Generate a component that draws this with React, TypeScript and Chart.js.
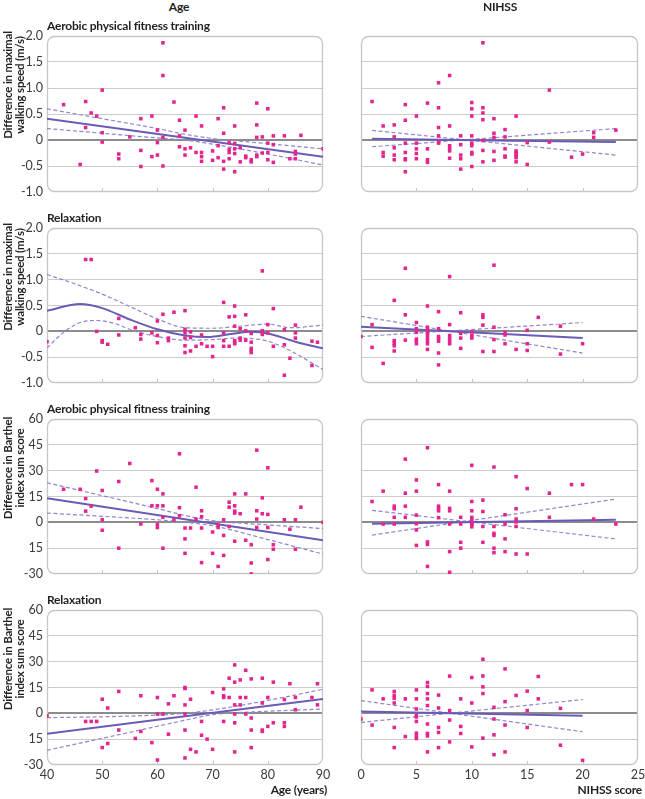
import React, { useEffect, useRef } from "react";
import { Chart, registerables } from "chart.js";
Chart.register(...registerables);

type Pt = [number, number];

// ---------------- axes ----------------
const AGE_TICKS = [40, 50, 60, 70, 80, 90];
const NIHSS_TICKS = [0, 5, 10, 15, 20, 25];
const SPEED_TICKS = [-1.0, -0.5, 0, 0.5, 1.0, 1.5, 2.0];
const SPEED_TICK_LABELS = ["-1.0", "-0.5", "0", "0.5", "1.0", "1.5", "2.0"];
const BARTHEL_TICKS = [-30, -15, 0, 15, 30, 45, 60];
const BARTHEL_TICK_LABELS = ["-30", "15", "0", "15", "30", "45", "60"];

// ---------------- row 1: walking speed, aerobic ----------------
const speedAerobicAge: Pt[] = [
  [43, 0.68], [46, -0.47], [47, 0.74], [47, 0.24], [48, 0.52], [49, 0.46], [50, 0.96], [50, 0.14], [50, -0.04],
  [53, -0.27], [53, -0.36], [55, 0.06], [57, 0.41], [57, -0.2], [57, -0.51], [59, 0.46], [59, -0.32], [60, 0.19],
  [60, -0.05], [60, -0.29], [61, 1.87], [61, 1.24], [61, 0.05], [61, -0.5], [63, 0.73], [64, 0.38], [64, 0.08],
  [64, -0.13], [65, 0.19], [65, -0.17], [65, -0.29], [66, -0.15], [67, 0.46], [67, -0.24], [68, 0.27], [68, -0.24],
  [68, -0.32], [68, -0.41], [70, -0.21], [70, -0.39], [71, 0.41], [71, -0.11], [71, -0.34], [72, 0.62], [72, 0.13],
  [72, -0.41], [72, -0.56], [73, -0.05], [73, -0.18], [73, -0.24], [73, -0.36], [74, 0.27], [74, -0.07], [74, -0.17],
  [74, -0.26], [74, -0.61], [75, -0.15], [75, -0.42], [76, -0.31], [76, -0.34], [77, -0.38], [77, -0.42], [78, 0.71],
  [78, 0.29], [78, 0.05], [78, -0.29], [78, -0.32], [79, 0.06], [79, -0.25], [80, 0.6], [80, -0.06], [80, -0.24],
  [80, -0.38], [81, 0.08], [81, -0.09], [81, -0.43], [83, 0.08], [84, -0.36], [85, -0.22], [85, -0.27], [85, -0.36],
  [86, 0.09], [90, -0.17],
];
const speedAerobicAgeFitX = [40, 90];
const speedAerobicAgeFitY = [0.41, -0.32];
const speedAerobicAgeUpperX = [40, 50, 60, 65, 70, 80, 90];
const speedAerobicAgeUpperY = [0.6, 0.41, 0.22, 0.11, 0.03, -0.07, -0.17];
const speedAerobicAgeLowerX = [40, 50, 60, 65, 70, 80, 90];
const speedAerobicAgeLowerY = [0.22, 0.13, 0.04, 0.0, -0.08, -0.27, -0.48];

const speedAerobicNihss: Pt[] = [
  [1, 0.74], [2, 0.27], [2, -0.24], [2, -0.31], [3, 0.29], [3, 0.06], [3, -0.15], [3, -0.29], [3, -0.38],
  [4, 0.68], [4, 0.38], [4, -0.06], [4, -0.24], [4, -0.36], [4, -0.38], [4, -0.61], [5, 0.46], [5, -0.06],
  [5, -0.17], [5, -0.26], [5, -0.36], [6, 0.71], [6, -0.17], [6, -0.38], [6, -0.43], [7, 1.1], [7, 0.62],
  [7, 0.24], [7, 0.08], [7, -0.04], [7, -0.06], [8, 1.24], [8, 0.27], [8, -0.11], [8, -0.16], [8, -0.21],
  [8, -0.35], [9, 0.08], [9, -0.09], [9, -0.29], [9, -0.36], [9, -0.56], [10, 0.72], [10, 0.6], [10, 0.46],
  [10, 0.08], [10, -0.06], [10, -0.11], [10, -0.24], [10, -0.27], [10, -0.51], [11, 1.87], [11, 0.62], [11, 0.52],
  [11, 0.39], [11, -0.01], [11, -0.2], [11, -0.42], [12, 0.41], [12, 0.13], [12, 0.05], [12, -0.22], [12, -0.39],
  [13, 0.2], [13, 0.06], [13, -0.17], [13, -0.31], [13, -0.33], [14, 0.46], [14, -0.21], [14, -0.24], [14, -0.27],
  [14, -0.31], [14, -0.34], [14, -0.42], [15, -0.05], [15, -0.47], [17, 0.96], [17, -0.04], [19, -0.33],
  [20, -0.27], [21, 0.14], [21, 0.05], [23, 0.19],
];
const speedAerobicNihssFitX = [1, 23];
const speedAerobicNihssFitY = [0.025, -0.04];
const speedAerobicNihssUpperX = [1, 23];
const speedAerobicNihssUpperY = [0.185, -0.29];
const speedAerobicNihssLowerX = [1, 23];
const speedAerobicNihssLowerY = [-0.13, 0.22];

// ---------------- row 2: walking speed, relaxation ----------------
const speedRelaxAge: Pt[] = [
  [47, 1.39], [48, 1.39], [53, 0.25], [56, 0.07], [60, 0.2], [61, 0.33], [63, 0.37], [65, 0.4], [65, 0.04],
  [72, 0.56], [73, 0.28], [74, 0.49], [74, 0.29], [74, 0.1], [75, 0.05], [76, 0.32], [76, 0.01], [79, 1.17],
  [79, 0.01], [80, 0.13], [81, 0.44], [83, 0.03], [85, 0.12],
  [40, -0.2], [49, 0], [50, -0.18], [50, -0.21], [51, -0.25], [53, -0.07], [57, -0.06], [57, -0.15], [59, -0.03],
  [60, -0.08], [60, -0.22], [62, -0.13], [62, -0.18], [65, -0.03], [65, -0.13], [65, -0.28], [65, -0.41],
  [66, -0.01], [66, -0.12], [66, -0.38], [67, -0.29], [68, -0.07], [68, -0.24], [69, -0.29], [70, -0.29],
  [70, -0.49], [72, -0.03], [72, -0.18], [72, -0.29], [73, -0.29], [74, -0.18], [74, -0.22], [74, -0.24],
  [75, -0.13], [75, -0.17], [76, -0.17], [77, -0.04], [77, -0.21], [77, -0.33], [77, -0.37], [77, -0.41],
  [79, -0.06], [80, -0.03], [81, -0.29], [83, -0.26], [83, -0.85], [84, -0.52], [85, -0.03], [85, -0.13],
  [88, -0.19], [88, -0.66], [89, -0.21],
];
const speedRelaxAgeFitX = [40, 46, 50, 55, 60, 65, 69, 74, 77, 80, 85, 90];
const speedRelaxAgeFitY = [0.4, 0.53, 0.45, 0.23, 0.04, -0.08, -0.11, -0.04, -0.01, -0.04, -0.2, -0.33];
const speedRelaxAgeUpperX = [40, 45, 50, 55, 60, 65, 70, 75, 80, 84, 90];
const speedRelaxAgeUpperY = [1.1, 0.92, 0.72, 0.48, 0.24, 0.07, 0.06, 0.1, 0.14, 0.07, 0.12];
const speedRelaxAgeLowerX = [40, 43, 46, 49, 52, 56, 60, 65, 70, 74, 78, 80, 84, 87, 90];
const speedRelaxAgeLowerY = [-0.32, -0.02, 0.17, 0.21, 0.16, 0.0, -0.1, -0.17, -0.16, -0.13, -0.15, -0.19, -0.37, -0.55, -0.74];

const speedRelaxNihss: Pt[] = [
  [1, 0.13], [3, 0.6], [4, 1.22], [4, 0.32], [5, 0.17], [5, 0.05], [6, 0.49], [6, 0.08], [6, 0.02], [7, 0.38],
  [7, 0.05], [8, 1.06], [8, 0.13], [9, 0.36], [11, 0.32], [11, 0.27], [11, 0.12], [12, 1.28], [12, 0.08],
  [15, 0.02], [16, 0.27], [18, 0.1],
  [0, -0.1], [1, -0.31], [2, -0.62], [3, -0.18], [3, -0.23], [3, -0.28], [3, -0.38], [4, -0.17], [5, -0.02],
  [5, -0.15], [5, -0.19], [5, -0.24], [6, -0.03], [6, -0.06], [6, -0.12], [6, -0.18], [6, -0.24], [6, -0.35],
  [7, -0.1], [7, -0.14], [7, -0.19], [7, -0.42], [7, -0.65], [8, -0.08], [8, -0.14], [8, -0.19], [8, -0.24],
  [9, -0.04], [9, -0.13], [9, -0.33], [10, -0.01], [10, -0.08], [10, -0.13], [11, -0.39], [12, -0.16],
  [12, -0.39], [13, -0.02], [13, -0.07], [13, -0.24], [14, -0.35], [15, -0.24], [15, -0.37], [18, -0.44],
  [20, -0.24],
];
const speedRelaxNihssFitX = [0, 20];
const speedRelaxNihssFitY = [0.09, -0.13];
const speedRelaxNihssUpperX = [0, 20];
const speedRelaxNihssUpperY = [0.29, -0.42];
const speedRelaxNihssLowerX = [0, 20];
const speedRelaxNihssLowerY = [-0.1, 0.17];

// ---------------- row 3: Barthel, aerobic ----------------
const barthelAerobicAge: Pt[] = [
  [43, 19.2], [46, 19.2], [47, 13.8], [47, 6.5], [48, 9.4], [49, 29.8], [50, 18.5], [50, 1.5], [53, 23.7],
  [55, 34.2], [57, -1], [59, 24.2], [59, 9.6], [60, 19.2], [60, 9.6], [60, -1.2], [60, -3], [61, 16.5], [61, 9.6],
  [61, 3], [63, 1.5], [64, 39.8], [64, 8.5], [64, 3.8], [65, -3.3], [66, -3.3], [67, 20.4], [67, 1.9], [68, 6.7],
  [68, 3.3], [68, -3.3], [71, -1.5], [71, -3], [72, 1.5], [73, 11.7], [73, 8.8], [74, 16.5], [74, 9.6], [74, 6.5],
  [74, 5.4], [75, 5], [76, 16.5], [78, 41.9], [78, 6.7], [78, 1.9], [78, -3], [79, 14.2], [79, 5], [80, 31.7],
  [80, 4.6], [80, -3], [83, 1.5], [85, 1.5], [86, 8.8], [90, 0],
  [50, -4.6], [53, -15], [61, -15], [65, -9.6], [65, -18], [68, -23.4], [70, -5.6], [70, -18], [71, -25.6],
  [72, -7.6], [72, -19.2], [73, -2.4], [74, -11], [76, -10.4], [77, -13], [77, -23.6], [77, -30], [80, -21.6],
  [81, -13], [81, -15.6], [84, -4], [85, -15.6],
];
const barthelAerobicAgeFitX = [40, 90];
const barthelAerobicAgeFitY = [14, -10.4];
const barthelAerobicAgeUpperX = [40, 50, 60, 65, 70, 80, 90];
const barthelAerobicAgeUpperY = [23, 15.5, 8, 4, 1, -1.5, -3.6];
const barthelAerobicAgeLowerX = [40, 50, 60, 65, 70, 80, 90];
const barthelAerobicAgeLowerY = [5.4, 3.5, 1.5, 0, -2, -10, -18.4];

const barthelAerobicNihss: Pt[] = [
  [1, 12.1], [2, 18.1], [3, 9.4], [3, 7.9], [3, 2.9], [4, 36.7], [4, 16.9], [4, 9.4], [4, 2.9], [5, 24.6],
  [5, 18.1], [5, 4.2], [5, -0.8], [6, 43.3], [7, 21.9], [7, 9.4], [7, 8.1], [7, 6.7], [7, 2.7], [8, 18.1], [8, 8.1],
  [8, 6.7], [9, 2.9], [10, 33.1], [10, 12.1], [10, 6.7], [10, 2.9], [10, 1.5], [10, -0.8], [11, 12.9], [11, 6.3],
  [12, 32.1], [13, 4.4], [14, 26.5], [14, 7.9], [14, 1.9], [14, 0.2], [15, 19.6], [17, 16.9], [17, 2.9],
  [19, 21.9], [20, 21.9], [21, 1.9],
  [2, -1], [3, -1], [5, -4.4], [5, -13.4], [6, -11.4], [6, -12.8], [6, -25.6], [8, -1], [8, -17], [8, -29], [9, -1],
  [9, -11.6], [9, -15], [10, -1.2], [10, -2.6], [11, -2.4], [11, -11.6], [12, -2.4], [12, -6.4], [12, -7.6],
  [12, -15], [12, -17.6], [13, -1], [13, -9.6], [13, -17], [14, -2.4], [14, -18.4], [15, -18.4], [23, -1],
];
const barthelAerobicNihssFitX = [1, 23];
const barthelAerobicNihssFitY = [-0.8, 1.5];
const barthelAerobicNihssUpperX = [1, 23];
const barthelAerobicNihssUpperY = [6.9, -9.6];
const barthelAerobicNihssLowerX = [1, 23];
const barthelAerobicNihssLowerY = [-7.4, 13.5];

// ---------------- row 4: Barthel, relaxation ----------------
const barthelRelaxAge: Pt[] = [
  [50, 8.2], [53, 12.7], [57, 10.2], [60, 9.2], [63, 10.2], [65, 15], [65, 14.4], [66, 8.2], [70, 12.1],
  [72, 14.2], [72, 10.2], [72, 9.2], [73, 20.4], [73, 9.2], [74, 28.1], [74, 18.1], [75, 19.4], [75, 9.2],
  [76, 25], [76, 9.2], [77, 20], [79, 20.4], [80, 9.2], [81, 18.1], [84, 17.2], [85, 9.2], [88, 9.2], [89, 17.2],
  [40, -1.4], [47, -4.7], [48, -4.7], [49, -4.7], [50, -19.9], [51, 3.1], [51, -17.5], [53, -9.7], [56, -14.6],
  [57, -10.5], [59, -17], [60, -0.4], [60, -27.1], [61, -0.4], [62, 5.5], [62, -12.1], [65, 4.9], [65, -0.4],
  [65, -9.7], [65, -25.9], [66, -20.9], [67, -22.4], [68, -4.7], [68, -12.7], [69, -15], [70, -20.9], [72, -4.7],
  [74, 4.9], [74, -0.4], [74, -5.5], [74, -22.4], [75, 4.9], [76, -0.4], [77, -2.7], [77, -9.7], [77, -19.9],
  [79, 6], [79, -9.7], [79, -10.5], [80, -7.6], [81, -5.5], [83, 8], [83, -5.5], [83, -7.6], [85, 2.1], [89, 4.9],
];
const barthelRelaxAgeFitX = [40, 90];
const barthelRelaxAgeFitY = [-11.8, 8.3];
const barthelRelaxAgeUpperX = [40, 50, 60, 65, 70, 80, 90];
const barthelRelaxAgeUpperY = [-2.5, -2, -1, 0, 2, 7.5, 14];
const barthelRelaxAgeLowerX = [40, 50, 60, 65, 70, 80, 90];
const barthelRelaxAgeLowerY = [-21.5, -14.5, -7.5, -4, -0.8, 1.2, 2.5];

const barthelRelaxNihss: Pt[] = [
  [1, 13.6], [2, 8.4], [3, 12.7], [3, 10.4], [3, 8.8], [4, 8.4], [5, 13.6], [5, 8.4], [6, 17.9], [6, 15.6],
  [6, 11.5], [6, 8.4], [7, 10.6], [8, 21.6], [9, 8.4], [10, 20.8], [11, 31.4], [11, 21.7], [11, 15.4], [11, 11.5],
  [13, 25.8], [14, 10.4], [15, 12.9], [16, 21.4], [16, 8.4],
  [0, -3.3], [1, -6.8], [3, 6], [3, -8.2], [3, -19.9], [4, -13.5], [5, 2.5], [5, -1.4], [5, -2.1], [5, -4.7],
  [5, -11.5], [5, -13.1], [5, -14.6], [6, 4.5], [6, -6.2], [6, -11.7], [6, -13.1], [6, -22.4], [7, 3.1], [7, -8.2],
  [7, -11.1], [7, -19.9], [8, 1.6], [8, -3.9], [8, -16.6], [9, -7.6], [9, -11.7], [10, 6], [10, -19.5],
  [11, -14.4], [12, 3.5], [12, -3.3], [12, -12.5], [12, -24], [13, 6.8], [13, -6.8], [13, -22.4], [15, 1.6],
  [15, -8.2], [18, 2.9], [18, -18.5], [20, -27.3],
];
const barthelRelaxNihssFitX = [0, 20];
const barthelRelaxNihssFitY = [1, -1.4];
const barthelRelaxNihssUpperX = [0, 20];
const barthelRelaxNihssUpperY = [7.4, -10.7];
const barthelRelaxNihssLowerX = [0, 20];
const barthelRelaxNihssLowerY = [-5.3, 8];

// ---------------- text ----------------
const COLUMN_HEADERS = ["Age", "NIHSS"];
const ROW_TITLES = ["Aerobic physical fitness training", "Relaxation", "Aerobic physical fitness training", "Relaxation"];
const SPEED_AXIS_TITLE = ["Difference in maximal", "walking speed (m/s)"];
const BARTHEL_AXIS_TITLE = ["Difference in Barthel", "index sum score"];
const X_TITLES = ["Age (years)", "NIHSS score"];

// ---------------- styling / layout ----------------
const PINK = "#e3258d";
const FIT = "#6a5cb6";
const CI = "#8e86cb";
const FONT = "Lato, 'Open Sans', sans-serif";
const ROW_TOP = [36, 228, 419, 610];
const ROW_H = [157, 156, 156, 155];
const COL = [
  { canvasLeft: 0, padL: 47, plotW: 276, padR: 17 },
  { canvasLeft: 325, padL: 36, plotW: 277, padR: 7 },
];
const PAD_T = 10;

interface Spec {
  row: number;
  col: number;
  points: Pt[];
  fitX: number[]; fitY: number[];
  upX: number[]; upY: number[];
  loX: number[]; loY: number[];
}

const SPECS: Spec[] = [
  { row: 0, col: 0, points: speedAerobicAge, fitX: speedAerobicAgeFitX, fitY: speedAerobicAgeFitY, upX: speedAerobicAgeUpperX, upY: speedAerobicAgeUpperY, loX: speedAerobicAgeLowerX, loY: speedAerobicAgeLowerY },
  { row: 0, col: 1, points: speedAerobicNihss, fitX: speedAerobicNihssFitX, fitY: speedAerobicNihssFitY, upX: speedAerobicNihssUpperX, upY: speedAerobicNihssUpperY, loX: speedAerobicNihssLowerX, loY: speedAerobicNihssLowerY },
  { row: 1, col: 0, points: speedRelaxAge, fitX: speedRelaxAgeFitX, fitY: speedRelaxAgeFitY, upX: speedRelaxAgeUpperX, upY: speedRelaxAgeUpperY, loX: speedRelaxAgeLowerX, loY: speedRelaxAgeLowerY },
  { row: 1, col: 1, points: speedRelaxNihss, fitX: speedRelaxNihssFitX, fitY: speedRelaxNihssFitY, upX: speedRelaxNihssUpperX, upY: speedRelaxNihssUpperY, loX: speedRelaxNihssLowerX, loY: speedRelaxNihssLowerY },
  { row: 2, col: 0, points: barthelAerobicAge, fitX: barthelAerobicAgeFitX, fitY: barthelAerobicAgeFitY, upX: barthelAerobicAgeUpperX, upY: barthelAerobicAgeUpperY, loX: barthelAerobicAgeLowerX, loY: barthelAerobicAgeLowerY },
  { row: 2, col: 1, points: barthelAerobicNihss, fitX: barthelAerobicNihssFitX, fitY: barthelAerobicNihssFitY, upX: barthelAerobicNihssUpperX, upY: barthelAerobicNihssUpperY, loX: barthelAerobicNihssLowerX, loY: barthelAerobicNihssLowerY },
  { row: 3, col: 0, points: barthelRelaxAge, fitX: barthelRelaxAgeFitX, fitY: barthelRelaxAgeFitY, upX: barthelRelaxAgeUpperX, upY: barthelRelaxAgeUpperY, loX: barthelRelaxAgeLowerX, loY: barthelRelaxAgeLowerY },
  { row: 3, col: 1, points: barthelRelaxNihss, fitX: barthelRelaxNihssFitX, fitY: barthelRelaxNihssFitY, upX: barthelRelaxNihssUpperX, upY: barthelRelaxNihssUpperY, loX: barthelRelaxNihssLowerX, loY: barthelRelaxNihssLowerY },
];

const toXY = (xs: number[], ys: number[]) => xs.map((x, i) => ({ x, y: ys[i] }));

const framePlugin = {
  id: "panelFrame",
  beforeDatasetsDraw(chart: any) {
    const { ctx, chartArea: a, scales } = chart;
    ctx.save();
    ctx.strokeStyle = "#c6c6c6";
    ctx.lineWidth = 1;
    const xs = scales.x;
    xs.ticks.forEach((t: any, i: number) => {
      if (i === 0 || i === xs.ticks.length - 1) return;
      const px = Math.round(xs.getPixelForValue(t.value)) + 0.5;
      ctx.beginPath();
      ctx.moveTo(px, a.bottom);
      ctx.lineTo(px, a.bottom - 4);
      ctx.stroke();
    });
    ctx.lineWidth = 1.3;
    ctx.beginPath();
    ctx.roundRect(a.left + 0.5, a.top + 0.5, a.width - 1, a.height - 1, 7);
    ctx.stroke();
    ctx.restore();
  },
};

function Panel({ spec }: { spec: Spec }) {
  const ref = useRef<HTMLCanvasElement>(null);
  const col = COL[spec.col];
  const bottomRow = spec.row === 3;
  const padB = bottomRow ? 20 : 3;
  const width = col.padL + col.plotW + col.padR;
  const height = PAD_T + ROW_H[spec.row] + padB;
  const top = ROW_TOP[spec.row] - PAD_T;

  useEffect(() => {
    const isSpeed = spec.row < 2;
    const yTicks = isSpeed ? SPEED_TICKS : BARTHEL_TICKS;
    const yLabels = isSpeed ? SPEED_TICK_LABELS : BARTHEL_TICK_LABELS;
    const xTicks = spec.col === 0 ? AGE_TICKS : NIHSS_TICKS;
    const lineBase = { showLine: true, pointRadius: 0, pointHoverRadius: 0, fill: false, cubicInterpolationMode: "monotone" as const, order: 1 };
    const chart = new Chart(ref.current as HTMLCanvasElement, {
      type: "scatter",
      data: {
        datasets: [
          { label: "points", data: spec.points.map(([x, y]) => ({ x, y })), pointStyle: "rect", pointRadius: 2.5, backgroundColor: PINK, borderWidth: 0, showLine: false, order: 0 },
          { ...lineBase, label: "fit", data: toXY(spec.fitX, spec.fitY), borderColor: FIT, borderWidth: 2 },
          { ...lineBase, label: "upper", data: toXY(spec.upX, spec.upY), borderColor: CI, borderWidth: 1.2, borderDash: [4, 2.5] },
          { ...lineBase, label: "lower", data: toXY(spec.loX, spec.loY), borderColor: CI, borderWidth: 1.2, borderDash: [4, 2.5] },
        ] as any,
      },
      options: {
        responsive: false,
        animation: false,
        devicePixelRatio: 1,
        layout: { padding: { top: PAD_T, right: col.padR, left: 0, bottom: 0 } },
        plugins: { legend: { display: false }, tooltip: { enabled: false } },
        scales: {
          x: {
            type: "linear",
            min: xTicks[0],
            max: xTicks[xTicks.length - 1],
            afterBuildTicks: (s: any) => { s.ticks = xTicks.map((v) => ({ value: v })); },
            afterFit: (s: any) => { s.height = padB; s.paddingLeft = 0; s.paddingRight = 0; },
            grid: { display: false, drawTicks: false, tickLength: 0 },
            border: { display: false },
            ticks: { display: bottomRow, autoSkip: false, maxRotation: 0, padding: 2, color: "#3a3a3a", font: { family: FONT, size: 12.5 } },
          },
          y: {
            type: "linear",
            min: yTicks[0],
            max: yTicks[yTicks.length - 1],
            afterBuildTicks: (s: any) => { s.ticks = yTicks.map((v) => ({ value: v })); },
            afterFit: (s: any) => { s.width = col.padL; s.paddingTop = 0; s.paddingBottom = 0; },
            border: { display: false },
            grid: {
              drawTicks: false,
              color: (c: any) => {
                const v = c.tick ? c.tick.value : NaN;
                if (v === yTicks[0] || v === yTicks[yTicks.length - 1]) return "rgba(0,0,0,0)";
                return v === 0 ? "#8c8c8c" : "#cccccc";
              },
              lineWidth: (c: any) => (c.tick && c.tick.value === 0 ? 2 : 1),
            },
            ticks: {
              display: spec.col === 0,
              padding: 4,
              color: "#3a3a3a",
              font: { family: FONT, size: 12.5 },
              callback: (v: any) => {
                const i = yTicks.indexOf(Number(v));
                return i >= 0 ? yLabels[i] : "";
              },
            },
          },
        },
      } as any,
      plugins: [framePlugin],
    });
    return () => chart.destroy();
  }, []);

  return (
    <canvas
      ref={ref}
      width={width}
      height={height}
      style={{ position: "absolute", left: col.canvasLeft, top, width, height }}
    />
  );
}

const boldText: React.CSSProperties = {
  position: "absolute",
  fontFamily: FONT,
  fontWeight: 700,
  fontSize: 12,
  color: "#231f20",
  whiteSpace: "nowrap",
  letterSpacing: "-0.2px",
};

export default function App() {
  return (
    <div style={{ position: "fixed", left: 0, top: 0, width: 645, height: 799, background: "#ffffff", overflow: "hidden" }}>
      {SPECS.map((s, i) => (
        <Panel key={i} spec={s} />
      ))}
      {/* column headers */}
      <div style={{ ...boldText, left: 129, width: 100, top: -1, textAlign: "center", lineHeight: "16px" }}>{COLUMN_HEADERS[0]}</div>
      <div style={{ ...boldText, left: 450, width: 100, top: -1, textAlign: "center", lineHeight: "16px" }}>{COLUMN_HEADERS[1]}</div>
      {/* row titles */}
      {ROW_TITLES.map((t, i) => (
        <div key={"rt" + i} style={{ ...boldText, left: 47, top: ROW_TOP[i] - 18, lineHeight: "16px" }}>{t}</div>
      ))}
      {/* y-axis titles */}
      {[0, 1, 2, 3].map((i) => {
        const lines = i < 2 ? SPEED_AXIS_TITLE : BARTHEL_AXIS_TITLE;
        const cx = 13.5;
        const cy = ROW_TOP[i] + 49;
        const w = 140;
        const h = 24;
        return (
          <div
            key={"yt" + i}
            style={{
              ...boldText,
              left: cx - w / 2,
              top: cy - h / 2,
              width: w,
              height: h,
              textAlign: "center",
              lineHeight: "11.5px",
              fontSize: 11.5,
              transform: "rotate(-90deg)",
              transformOrigin: "50% 50%",
            }}
          >
            {lines[0]}
            <br />
            {lines[1]}
          </div>
        );
      })}
      {/* x-axis titles */}
      <div style={{ ...boldText, left: 0, width: 327, top: 782, textAlign: "right", lineHeight: "16px" }}>{X_TITLES[0]}</div>
      <div style={{ ...boldText, left: 0, width: 642, top: 782, textAlign: "right", lineHeight: "16px" }}>{X_TITLES[1]}</div>
    </div>
  );
}
